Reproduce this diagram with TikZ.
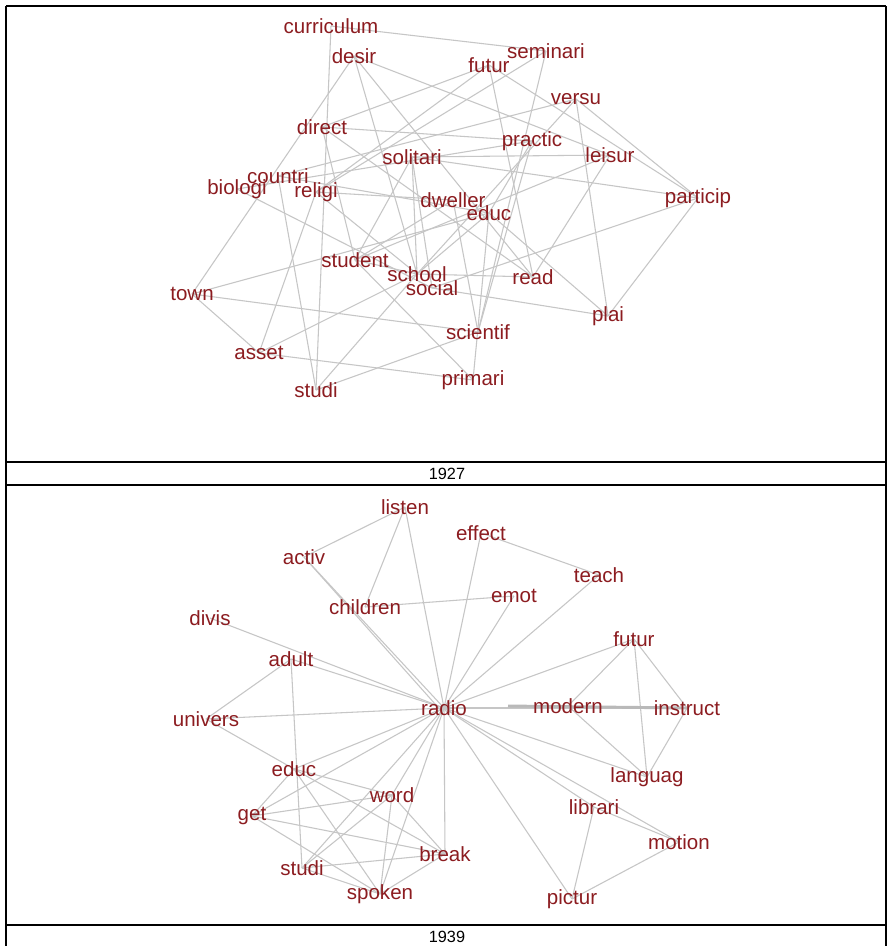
\documentclass[tikz,border=0pt]{standalone}
\usepackage{fontspec}
\setmainfont{Liberation Sans}
\usetikzlibrary{backgrounds}
\definecolor{lab}{RGB}{140,28,32}
\definecolor{edgegrey}{RGB}{198,198,198}
\definecolor{heavygrey}{RGB}{185,185,185}
\begin{document}
\begin{tikzpicture}[x=0.75pt,y=-0.75pt,
  lbl/.style={text=lab, inner sep=0pt, font=\fontsize{15.4}{16}\selectfont},
  edge/.style={draw=edgegrey, line width=0.8pt},
  heavy/.style={draw=heavygrey, line width=2.2pt},
  frame/.style={draw=black, line width=0.8pt},
  captext/.style={inner sep=0pt, font=\fontsize{12.2}{14}\selectfont}]
\useasboundingbox (0,0) rectangle (888,946);
% ---------- top panel (1927) ----------
\foreach \n/\x/\y in {curriculum/331/26, desir/354/56, futur/489/65, seminari/546/51,
  versu/576/99, direct/322/127, practic/532/141, leisur/610/155, solitari/412/157,
  countri/278/176, biologi/237/189, religi/316/192, dweller/453/200, educ/489/213,
  particip/698/198, student/355/260, school/417/274, social/432/288, read/533/277,
  town/192/294, plai/608/316, scientif/478/332, asset/259/353, primari/473/380,
  studi/316/390}
  \node[lbl] (a\n) at (\x,\y) {\n};
% ---------- bottom panel (1939) ----------
\foreach \n/\x/\y in {listen/405/507, effect/481/533, activ/304/557, teach/599/575,
  emot/514/596, children/365/607, divis/210/618, futur/634/639, adult/291/659,
  radio/444/708, modern/568/706, instruct/687/708, univers/206/719, educ/294/769,
  languag/647/777, word/392/795, librari/594/807, get/252/816, motion/679/842,
  break/445/854, studi/302/868, spoken/380/894, pictur/572/899}
  \node[lbl] (b\n) at (\x,\y) {\n};
% captions
\node[captext] (cap1) at (447,474) {1927};
\node[captext] (cap2) at (447,937) {1939};
\begin{scope}[on background layer]
\fill[white] (0,0) rectangle (888,946);
\foreach \u/\v in {curriculum/seminari, curriculum/studi, desir/school, desir/town,
  desir/leisur, desir/read, futur/direct, futur/particip, futur/read, futur/religi,
  seminari/scientif, seminari/religi, versu/particip, versu/plai, versu/countri,
  versu/school, direct/practic, direct/student, direct/read, solitari/leisur,
  solitari/particip, solitari/school, solitari/student, solitari/social,
  countri/educ, countri/studi, religi/dweller, religi/asset, religi/school,
  biologi/social, biologi/practic, practic/educ, practic/scientif, leisur/read,
  leisur/student, particip/plai, particip/social, educ/plai, social/plai,
  school/read, educ/primari, dweller/scientif, student/primari, asset/primari,
  studi/scientif, town/scientif, town/asset, town/educ, school/asset,
  school/studi, student/school, educ/school, dweller/student}
  \draw[edge] (a\u.center) -- (a\v.center);
\foreach \u/\v in {listen/activ, listen/children, listen/radio, activ/radio,
  children/emot, effect/teach, effect/radio, emot/radio, teach/radio, divis/radio,
  adult/radio, adult/univers, adult/studi, univers/radio, univers/educ,
  futur/radio, futur/modern, futur/languag, futur/instruct, radio/instruct,
  modern/languag, instruct/languag, radio/languag, radio/librari, radio/motion,
  librari/motion, librari/pictur, motion/pictur, radio/pictur, radio/break,
  radio/spoken, radio/studi, radio/get, radio/educ, radio/word, educ/get,
  educ/word, educ/break, educ/spoken, get/word, get/break, get/spoken,
  word/studi, word/spoken, word/break, studi/break, studi/spoken, spoken/break}
  \draw[edge] (b\u.center) -- (b\v.center);
\draw[edge] (bactiv.center) -- ([xshift=-4pt]bradio.center);
\draw[heavy] ([xshift=-45pt]bmodern.center) -- (binstruct.center);
\end{scope}
% frame
\draw[frame] (6,6) -- (886,6);
\draw[frame] (6,6) -- (6,946);
\draw[frame] (886,6) -- (886,946);
\draw[frame] (6,462) -- (886,462);
\draw[frame] (6,485) -- (886,485);
\draw[frame] (6,925) -- (886,925);
\end{tikzpicture}
\end{document}
